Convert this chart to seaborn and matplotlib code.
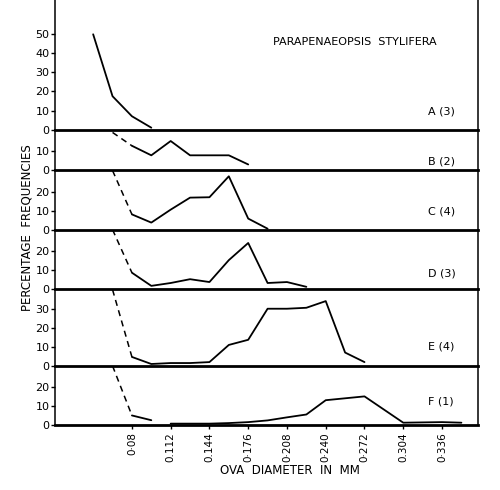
import matplotlib
matplotlib.use("Agg")
import matplotlib.pyplot as plt
import seaborn as sns

# ova diameter classes (mm) and percentage frequencies
panels = ["A (3)", "B (2)", "C (4)", "D (3)", "E (4)", "F (1)"]
y_tops = [68, 21, 31.5, 31, 40.5, 31]
y_ticks = [[0, 10, 20, 30, 40, 50], [0, 10], [0, 10, 20], [0, 10, 20], [0, 10, 20, 30], [0, 10, 20]]

a_x = [0.048, 0.064, 0.080, 0.096]
a_y = [50, 17.5, 7, 1]

b_dash_x = [0.064, 0.080]
b_dash_y = [19.5, 12.5]
b_x = [0.080, 0.096, 0.112, 0.128, 0.144, 0.160, 0.176]
b_y = [12.5, 7.5, 15, 7.5, 7.5, 7.5, 2.7]

c_dash_x = [0.064, 0.080]
c_dash_y = [31, 8]
c_x = [0.080, 0.096, 0.112, 0.128, 0.144, 0.160, 0.176, 0.192]
c_y = [8, 3.7, 10.5, 16.8, 17, 28, 5.8, 0.5]

d_dash_x = [0.064, 0.080]
d_dash_y = [31, 8.4]
d_x = [0.080, 0.096, 0.112, 0.128, 0.144, 0.160, 0.176, 0.192, 0.208, 0.224]
d_y = [8.4, 1.5, 3, 5, 3.5, 15, 24, 3, 3.5, 1]

e_dash_x = [0.064, 0.080]
e_dash_y = [40, 4.7]
e_x = [0.080, 0.096, 0.112, 0.128, 0.144, 0.160, 0.176, 0.192, 0.208, 0.224, 0.240, 0.256, 0.272]
e_y = [4.7, 1, 1.5, 1.5, 2, 11, 13.7, 30, 30, 30.5, 34, 7, 2]

f_dash_x = [0.064, 0.080]
f_dash_y = [31, 5]
f_x1 = [0.080, 0.096]
f_y1 = [5, 2.5]
f_x2 = [0.112, 0.128, 0.144, 0.160, 0.176, 0.192, 0.208, 0.224, 0.240, 0.272, 0.304, 0.336, 0.352]
f_y2 = [0.7, 0.7, 0.7, 1.0, 1.5, 2.4, 4, 5.5, 13, 15, 1.2, 1.5, 1.2]

x_ticks = [0.080, 0.112, 0.144, 0.176, 0.208, 0.240, 0.272, 0.304, 0.336]
x_labels = ["0·08", "0.112", "0.144", "0·176", "0·208", "0·240", "0·272", "0.304", "0·336"]

solid = [[(a_x, a_y)], [(b_x, b_y)], [(c_x, c_y)], [(d_x, d_y)], [(e_x, e_y)],
         [(f_x1, f_y1), (f_x2, f_y2)]]
dashed = [[], [(b_dash_x, b_dash_y)], [(c_dash_x, c_dash_y)], [(d_dash_x, d_dash_y)],
          [(e_dash_x, e_dash_y)], [(f_dash_x, f_dash_y)]]

sns.set_style("ticks", {"axes.edgecolor": "black", "text.color": "black",
                        "xtick.color": "black", "ytick.color": "black"})
plt.rcParams['font.family'] = ['DejaVu Sans']

fig = plt.figure(figsize=(5, 4.9), dpi=100)
gs = fig.add_gridspec(6, 1, height_ratios=y_tops, hspace=0,
                      left=0.11, right=0.956, top=1.0, bottom=0.1327)

for i, name in enumerate(panels):
    ax = fig.add_subplot(gs[i])
    ax.set_facecolor("none")
    for xs, ys in solid[i]:
        sns.lineplot(x=xs, y=ys, ax=ax, color="black", lw=1.3, sort=False)
    for xs, ys in dashed[i]:
        sns.lineplot(x=xs, y=ys, ax=ax, color="black", lw=1.1, sort=False,
                     linestyle=(0, (4, 3)))
    ax.set_xlim(0.0165, 0.3657)
    ax.set_ylim(0, y_tops[i])
    ax.set_yticks(y_ticks[i])
    ax.tick_params(axis="y", labelsize=8, length=3, width=1, pad=1)
    ax.spines["top"].set_visible(False)
    for s in ["left", "right"]:
        ax.spines[s].set_linewidth(1.1)
    ax.spines["bottom"].set_linewidth(2.0)
    ax.spines["bottom"].set_zorder(3)
    if i < 5:
        ax.set_xticks([])
    else:
        ax.set_xticks(x_ticks)
        ax.set_xticklabels(x_labels, rotation=90, fontsize=7.5)
        ax.tick_params(axis="x", length=3, width=1, pad=2)

label_y = [112, 161, 211, 273, 346, 401]
for name, py in zip(panels, label_y):
    fig.text(0.856, 1 - py / 490, name, fontsize=8, va="center", ha="left")

fig.text(0.71, 1 - 42 / 490, "PARAPENAEOPSIS  STYLIFERA", fontsize=8, ha="center", va="center")
fig.text(0.054, 1 - 228 / 490, "PERCENTAGE  FREQUENCIES", fontsize=8.5, rotation=90,
         ha="center", va="center")
fig.text(0.58, 1 - 470 / 490, "OVA  DIAMETER  IN  MM", fontsize=8.5, ha="center", va="center")

fig.savefig("out.png", dpi=100)
